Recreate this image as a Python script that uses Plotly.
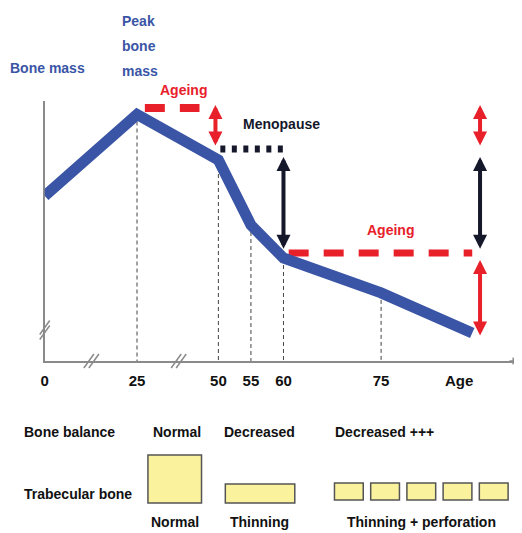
import plotly.graph_objects as go

# ---------------- data ----------------
ages = [0, 25, 50, 55, 60, 75, 89]
bone_mass = [63.5, 94.8, 77.3, 52.3, 39.6, 26.2, 10.8]
drop_ages = [25, 50, 55, 60, 75]
tick_ages = [0, 25, 50, 55, 60, 75]
tick_labels = ["0", "25", "50", "55", "60", "75"]
age_title_pos = 87

peak_level = 97.3          # "Ageing" reference after the peak
menopause_level = 81.5     # level at menopause onset
post_menopause_level = 41.5

balance_labels = ["Normal", "Decreased", "Decreased +++"]
trabecular_labels = ["Normal", "Thinning", "Thinning + perforation"]
perforation_count = 5

# ---------------- geometry helpers ----------------
OFF = 8                      # page body margin
W, H = 522 - OFF, 533 - OFF  # figure size
PX_PER_YR = 6.56
X0 = 37.5 - 93 / PX_PER_YR


def age_to_x(a):
    """Broken age axis: compressed before 50, linear after."""
    if a >= 50:
        return a
    if a >= 25:
        return 37.5 + (a - 25) * 0.5
    return X0 + a * (37.5 - X0) / 25


def px(x):
    return (x - OFF) / W


def py(y):
    return 1 - (y - OFF) / H


BLUE = "#3A55A6"
RED = "#E8202A"
NAVY = "#15172B"
GREY = "#8a8a8a"
FONT = "Liberation Sans, Arial, sans-serif"
FS = 14

fig = go.Figure()

# vertical dashed guide lines
gx, gy = [], []
for a in drop_ages:
    m = bone_mass[ages.index(a)]
    gx += [age_to_x(a), age_to_x(a), None]
    gy += [m, 0, None]
fig.add_trace(go.Scatter(x=gx, y=gy, mode="lines", hoverinfo="skip",
                         line=dict(color="#444444", width=1, dash="4px,3px")))

# reference levels
fig.add_trace(go.Scatter(x=[age_to_x(27.4), age_to_x(44.2)], y=[peak_level] * 2,
                         mode="lines", line=dict(color=RED, width=8, dash="20px,15px")))
fig.add_trace(go.Scatter(x=[age_to_x(50.3), age_to_x(60)], y=[menopause_level] * 2,
                         mode="lines", line=dict(color=NAVY, width=7, dash="5px,6.5px")))
fig.add_trace(go.Scatter(x=[age_to_x(60.8), age_to_x(89)], y=[post_menopause_level] * 2,
                         mode="lines", line=dict(color=RED, width=7, dash="20px,15px")))

# bone mass curve
fig.add_trace(go.Scatter(x=[age_to_x(a) for a in ages], y=bone_mass, mode="lines",
                         line=dict(color=BLUE, width=11)))

annotations = []


def arrow(xa, y_top, y_bot, color):
    annotations.append(dict(x=age_to_x(xa), y=y_top, ax=age_to_x(xa), ay=y_bot,
                            xref="x", yref="y", axref="x", ayref="y", text="",
                            showarrow=True, arrowside="end+start", arrowhead=2,
                            startarrowhead=2, arrowsize=0.7, startarrowsize=0.7,
                            arrowwidth=4, arrowcolor=color))


arrow(49.1, 98.5, 82.3, RED)
arrow(60, 78.5, 42.6, NAVY)
arrow(90.2, 98.5, 82.3, RED)
arrow(90.2, 78.5, 42.6, NAVY)
arrow(90.2, 38.8, 9.2, RED)

# x axis arrow head
annotations.append(dict(x=X0 + 479 / PX_PER_YR, y=0,
                        xref="x", yref="y", ax=-12, ay=0, text="", showarrow=True,
                        arrowhead=2, arrowsize=1, arrowwidth=1.5, arrowcolor=GREY))


def text(x, y, s, color="#111111", size=FS, anchor="center"):
    annotations.append(dict(x=px(x), y=py(y), xref="paper", yref="paper", text=s,
                            showarrow=False, xanchor=anchor, yanchor="middle",
                            font=dict(family=FONT, size=size, color=color, weight="bold")))


text(44, 68, "Bone mass", BLUE)
text(117, 21, "Peak", BLUE, anchor="left")
text(117, 46, "bone", BLUE, anchor="left")
text(117, 71, "mass", BLUE, anchor="left")
text(181, 90, "Ageing", RED)
text(280, 124, "Menopause", NAVY)
text(389, 230, "Ageing", RED)

text(66, 432, "Bone balance")
text(174, 432, balance_labels[0])
text(257, 432, balance_labels[1])
text(383, 432, balance_labels[2])
text(75, 494, "Trabecular bone")
text(172, 522, trabecular_labels[0])
text(257, 522, trabecular_labels[1])
text(421, 522, trabecular_labels[2])

shapes = []
BOX = dict(type="rect", xref="paper", yref="paper", fillcolor="#FBF29E",
           line=dict(color="#555555", width=1.5), layer="above")
shapes.append(dict(BOX, x0=px(145), x1=px(199), y0=py(503), y1=py(455)))
shapes.append(dict(BOX, x0=px(223), x1=px(293), y0=py(503), y1=py(484)))
for i in range(perforation_count):
    x0 = 333 + i * 36.5
    shapes.append(dict(BOX, x0=px(x0), x1=px(x0 + 29), y0=py(500), y1=py(483)))


# axis break marks (paper-referenced so they are not clipped by the plot area)
def brk(xp, yp, horizontal):
    for off in (-2.5, 2.5):
        if horizontal:
            x0, x1, y0, y1 = -5 + off, 5 + off, -7, 7
        else:
            x0, x1, y0, y1 = -5, 5, -7 + off, 7 + off
        shapes.append(dict(type="line", xref="paper", yref="paper", xsizemode="pixel",
                           ysizemode="pixel", xanchor=px(xp), yanchor=py(yp),
                           x0=x0, x1=x1, y0=y0, y1=y1,
                           line=dict(color=GREY, width=1.5)))


brk(88, 361, True)
brk(176, 361, True)
brk(41, 330, False)

fig.update_layout(
    width=W, height=H, margin=dict(l=0, r=0, t=0, b=0),
    paper_bgcolor="white", plot_bgcolor="white", showlegend=False,
    annotations=annotations, shapes=shapes,
    xaxis=dict(domain=[px(41), px(520)], range=[X0, X0 + 479 / PX_PER_YR],
               showgrid=False, zeroline=False, showline=True, linecolor=GREY,
               linewidth=1.5, tickvals=[age_to_x(a) for a in tick_ages] + [age_title_pos],
               ticktext=tick_labels + ["Age"], ticks="outside", ticklen=5,
               tickcolor="rgba(0,0,0,0)", layer="below traces",
               tickfont=dict(family=FONT, size=FS + 1, color="#111111", weight="bold")),
    yaxis=dict(domain=[py(361), py(101)], range=[0, 100], showgrid=False,
               zeroline=False, showline=True, linecolor=GREY, linewidth=1.5,
               showticklabels=False, ticks="", layer="below traces"),
)

fig.write_html("out.html")
